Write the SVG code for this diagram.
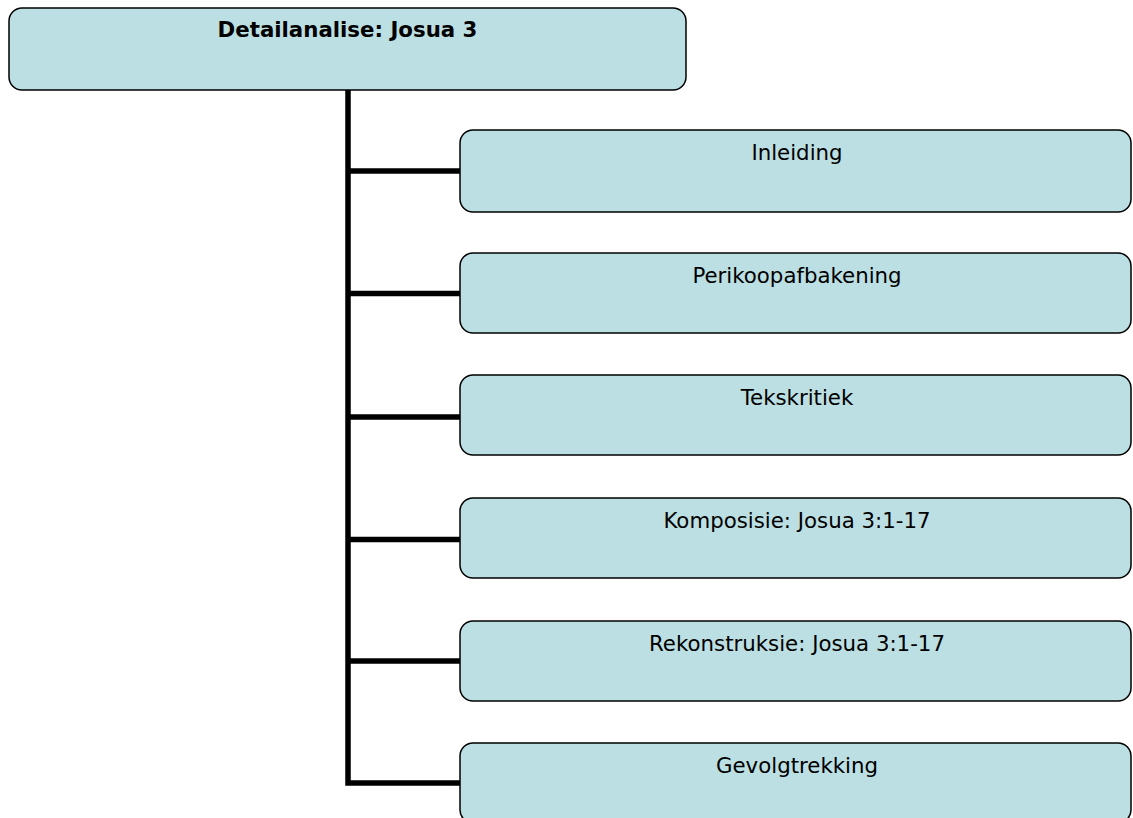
<svg xmlns="http://www.w3.org/2000/svg" width="1133" height="818" viewBox="0 0 1133 818">
  <style>
    .box { fill: #bbdfe2; stroke: #000; stroke-width: 1.5; }
    .label { font-family: "DejaVu Sans", Verdana, sans-serif; font-size: 21.3px; fill: #000; text-anchor: middle; }
    .title { font-weight: bold; }
    .conn { stroke: #000; stroke-width: 5.5; fill: none; stroke-linecap: butt; stroke-linejoin: miter; }
  </style>
  <rect width="1133" height="818" fill="#fff"/>

  <!-- tree connectors: one trunk from the root, one branch per child -->
  <g id="connectors">
    <path class="conn" d="M348 90 V783 H460"/>
    <path class="conn" d="M348 171 H460"/>
    <path class="conn" d="M348 293.5 H460"/>
    <path class="conn" d="M348 417 H460"/>
    <path class="conn" d="M348 539.5 H460"/>
    <path class="conn" d="M348 661 H460"/>
  </g>

  <g id="root">
    <rect class="box" x="9" y="8" width="677" height="82" rx="13"/>
    <text class="label title" x="347.5" y="37">Detailanalise: Josua 3</text>
  </g>

  <g id="inleiding">
    <rect class="box" x="460" y="130" width="671" height="82" rx="13"/>
    <text class="label" x="797" y="160">Inleiding</text>
  </g>

  <g id="perikoopafbakening">
    <rect class="box" x="460" y="253" width="671" height="80" rx="13"/>
    <text class="label" x="797" y="283">Perikoopafbakening</text>
  </g>

  <g id="tekskritiek">
    <rect class="box" x="460" y="375" width="671" height="80" rx="13"/>
    <text class="label" x="797" y="405">Tekskritiek</text>
  </g>

  <g id="komposisie">
    <rect class="box" x="460" y="498" width="671" height="80" rx="13"/>
    <text class="label" x="797" y="528">Komposisie: Josua 3:1-17</text>
  </g>

  <g id="rekonstruksie">
    <rect class="box" x="460" y="621" width="671" height="80" rx="13"/>
    <text class="label" x="797" y="651">Rekonstruksie: Josua 3:1-17</text>
  </g>

  <g id="gevolgtrekking">
    <rect class="box" x="460" y="743" width="671" height="80" rx="13"/>
    <text class="label" x="797" y="773">Gevolgtrekking</text>
  </g>
</svg>
